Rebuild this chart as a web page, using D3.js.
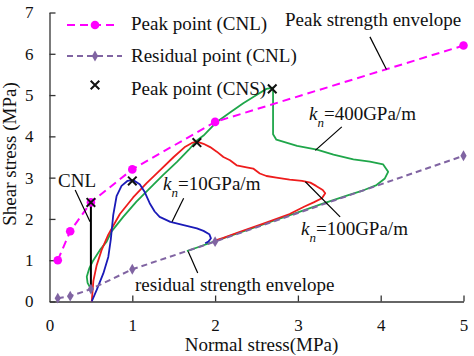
<!DOCTYPE html>
<html><head><meta charset="utf-8">
<script src="https://cdn.jsdelivr.net/npm/d3@7"></script>
<style>
html,body{margin:0;padding:0;background:#fff;}
svg{display:block;}
</style></head>
<body>
<svg id="chart" width="474" height="356"></svg>
<script>
// ---------- data ----------
const xTicks = [0, 1, 2, 3, 4, 5];
const yTicks = [0, 1, 2, 3, 4, 5, 6, 7];

const peakCNLx = [0.1, 0.25, 0.5, 1.0, 2.0, 5.0];
const peakCNLy = [1.0, 1.7, 2.4, 3.2, 4.35, 6.2];

const residualCNLx = [0.1, 0.25, 0.5, 1.0, 2.0, 5.0];
const residualCNLy = [0.08, 0.13, 0.3, 0.78, 1.45, 3.53];

const peakCNSx = [0.5, 1.0, 1.78, 2.69];
const peakCNSy = [2.4, 2.92, 3.85, 5.15];

const cnlLine = [[0.5, 0.35], [0.5, 2.4]];

const kn10 = [[0.51,0],[0.57,0.28],[0.65,0.68],[0.71,1.08],[0.74,1.5],[0.77,2.1],[0.81,2.55],[0.87,2.8],[0.94,2.92],[1.01,2.94],[1.09,2.84],[1.15,2.65],[1.21,2.38],[1.27,2.18],[1.33,2.05],[1.46,1.93],[1.62,1.85],[1.78,1.77],[1.86,1.71],[1.93,1.63],[1.95,1.53],[1.92,1.45],[1.88,1.41]];

const kn100 = [[0.51,0],[0.53,0.5],[0.57,0.88],[0.63,1.25],[0.71,1.62],[0.85,2.12],[1.01,2.52],[1.17,2.86],[1.33,3.17],[1.5,3.5],[1.64,3.75],[1.72,3.84],[1.78,3.87],[1.86,3.82],[1.94,3.74],[2.02,3.63],[2.1,3.5],[2.18,3.42],[2.26,3.3],[2.38,3.25],[2.46,3.22],[2.54,3.1],[2.62,3.04],[2.74,3.0],[2.9,2.95],[3.05,2.92],[3.15,2.88],[3.22,2.8],[3.3,2.7],[3.33,2.62],[3.29,2.5],[3.19,2.4],[3.08,2.3],[2.9,2.12],[2.6,1.9],[2.3,1.69],[2.1,1.54],[1.98,1.46]];

const kn400 = [[0.5,0.3],[0.46,0.45],[0.45,0.6],[0.48,0.8],[0.53,1.0],[0.61,1.25],[0.69,1.45],[0.75,1.7],[0.89,2.05],[1.05,2.42],[1.21,2.74],[1.37,3.06],[1.54,3.38],[1.68,3.67],[1.78,3.9],[1.86,4.02],[2.02,4.35],[2.18,4.58],[2.34,4.8],[2.5,5.0],[2.62,5.15],[2.7,5.18],[2.7,4.05],[2.74,3.92],[2.99,3.77],[3.23,3.68],[3.43,3.56],[3.67,3.44],[3.87,3.39],[4.03,3.32],[4.09,3.14],[4.05,2.98],[3.95,2.82],[3.8,2.7],[3.6,2.57],[3.3,2.37],[3.0,2.16],[2.7,1.95],[2.4,1.74],[2.2,1.6],[2.0,1.46],[1.8,1.32],[1.66,1.22]];

// annotation leader lines (data units)
const leaders = [
  [[3.87,6.41],[4.07,5.62]],
  [[3.53,4.23],[3.21,3.66]],
  [[1.62,2.5],[1.48,1.93]],
  [[3.51,2.05],[3.09,2.9]],
  [[1.675,1.21],[1.79,0.69]],
  [[0.31,2.7],[0.49,1.93]]
];

// ---------- drawing ----------
const FONT = "'Liberation Serif', 'Times New Roman', serif";
const svg = d3.select("#chart").style("font-family", FONT);
const x = d3.scaleLinear().domain([0,5]).range([49.5,463.5]);
const y = d3.scaleLinear().domain([0,7]).range([301.5,12.5]);
const line = d3.line().x(d=>x(d[0])).y(d=>y(d[1]));

function txt(sel){ return sel.style("font-family", FONT).attr("fill","#111"); }

const axisColor = "#333";
const gx = svg.append("g").attr("transform",`translate(0,${y(0)})`)
  .call(d3.axisBottom(x).tickValues(xTicks).tickFormat(d3.format("d")).tickSizeInner(-6).tickSizeOuter(0).tickPadding(17));
const gy = svg.append("g").attr("transform",`translate(${x(0)},0)`)
  .call(d3.axisLeft(y).tickValues(yTicks).tickFormat(d3.format("d")).tickSizeInner(-6).tickSizeOuter(0).tickPadding(16));
[gx,gy].forEach(g=>{
  g.attr("font-family", null).style("font-family", FONT);
  g.selectAll("path,line").attr("stroke",axisColor).attr("stroke-width",1.3);
  txt(g.selectAll("text")).style("font-size","17px");
});
gx.selectAll(".tick").filter(d=>d===0).select("line").remove();

// curves
svg.append("path").datum(kn400).attr("d",line).attr("fill","none").attr("stroke","#1fa64a").attr("stroke-width",1.8).attr("stroke-linejoin","round");
svg.append("path").datum(kn100).attr("d",line).attr("fill","none").attr("stroke","#ee1c1c").attr("stroke-width",1.8).attr("stroke-linejoin","round");
svg.append("path").datum(kn10).attr("d",line).attr("fill","none").attr("stroke","#1a1ab8").attr("stroke-width",1.8).attr("stroke-linejoin","round");

// CNL vertical
svg.append("path").datum(cnlLine).attr("d",line).attr("fill","none").attr("stroke","#000").attr("stroke-width",2);

// residual envelope
const resData = residualCNLx.map((v,i)=>[v,residualCNLy[i]]);
svg.append("path").datum(resData).attr("d",line).attr("fill","none").attr("stroke","#8064a2").attr("stroke-width",2).attr("stroke-dasharray","6,4");
const diamond = d3.symbol().type(d3.symbolDiamond).size(34);
svg.selectAll(".res").data(resData).enter().append("path")
  .attr("transform",d=>`translate(${x(d[0])},${y(d[1])})`).attr("d",diamond).attr("fill","#8064a2");

// peak envelope
const peakData = peakCNLx.map((v,i)=>[v,peakCNLy[i]]);
svg.append("path").datum(peakData).attr("d",line).attr("fill","none").attr("stroke","#ff00ff").attr("stroke-width",2).attr("stroke-dasharray","8,5");
svg.selectAll(".pk").data(peakData).enter().append("circle")
  .attr("cx",d=>x(d[0])).attr("cy",d=>y(d[1])).attr("r",4.3).attr("fill","#ff00ff");

// CNS peaks (x marks)
const cross = d3.symbol().type(d3.symbolX).size(50);
svg.selectAll(".cns").data(peakCNSx.map((v,i)=>[v,peakCNSy[i]])).enter().append("path")
  .attr("transform",d=>`translate(${x(d[0])},${y(d[1])})`).attr("d",cross).attr("fill","none").attr("stroke","#111").attr("stroke-width",2);

// leaders
svg.selectAll(".ld").data(leaders).enter().append("path").attr("d",line).attr("fill","none").attr("stroke","#000").attr("stroke-width",1.2);

// legend
const lg = svg.append("g");
lg.append("line").attr("x1",67).attr("x2",118).attr("y1",25).attr("y2",25).attr("stroke","#ff00ff").attr("stroke-width",2).attr("stroke-dasharray","8,5");
lg.append("circle").attr("cx",95).attr("cy",25).attr("r",4.3).attr("fill","#ff00ff");
txt(lg.append("text").attr("x",131).attr("y",30).style("font-size","19px").text("Peak point (CNL)"));
lg.append("line").attr("x1",67).attr("x2",122).attr("y1",56).attr("y2",56).attr("stroke","#8064a2").attr("stroke-width",2).attr("stroke-dasharray","6,4");
lg.append("path").attr("transform","translate(95,56)").attr("d",diamond).attr("fill","#8064a2");
txt(lg.append("text").attr("x",131).attr("y",62).style("font-size","19px").text("Residual point (CNL)"));
lg.append("path").attr("transform","translate(95,85)").attr("d",cross).attr("fill","none").attr("stroke","#111").attr("stroke-width",2);
txt(lg.append("text").attr("x",131).attr("y",95).style("font-size","19px").text("Peak point (CNS)"));

// annotations
txt(svg.append("text").attr("x",285).attr("y",26).style("font-size","19px").text("Peak strength envelope"));
txt(svg.append("text").attr("x",135).attr("y",291).style("font-size","19px").text("residual strength envelope"));
txt(svg.append("text").attr("x",58).attr("y",187).style("font-size","19px").text("CNL"));

function knLabel(x0, yb, rest){
  const t = txt(svg.append("text").attr("x",x0).attr("y",yb).style("font-size","19px"));
  t.append("tspan").style("font-style","italic").text("k");
  t.append("tspan").style("font-style","italic").style("font-size","13px").attr("dy",7).text("n");
  t.append("tspan").attr("dy",-7).text(rest);
}
knLabel(163,190,"=10GPa/m");
knLabel(301,235,"=100GPa/m");
knLabel(309,120,"=400GPa/m");

// axis titles
txt(svg.append("text").attr("x",261.5).attr("y",351).attr("text-anchor","middle").style("font-size","19px").text("Normal stress(MPa)"));
txt(svg.append("text").attr("transform","translate(16,154) rotate(-90)").attr("text-anchor","middle").style("font-size","19px").text("Shear stress (MPa)"));
</script>
</body></html>
